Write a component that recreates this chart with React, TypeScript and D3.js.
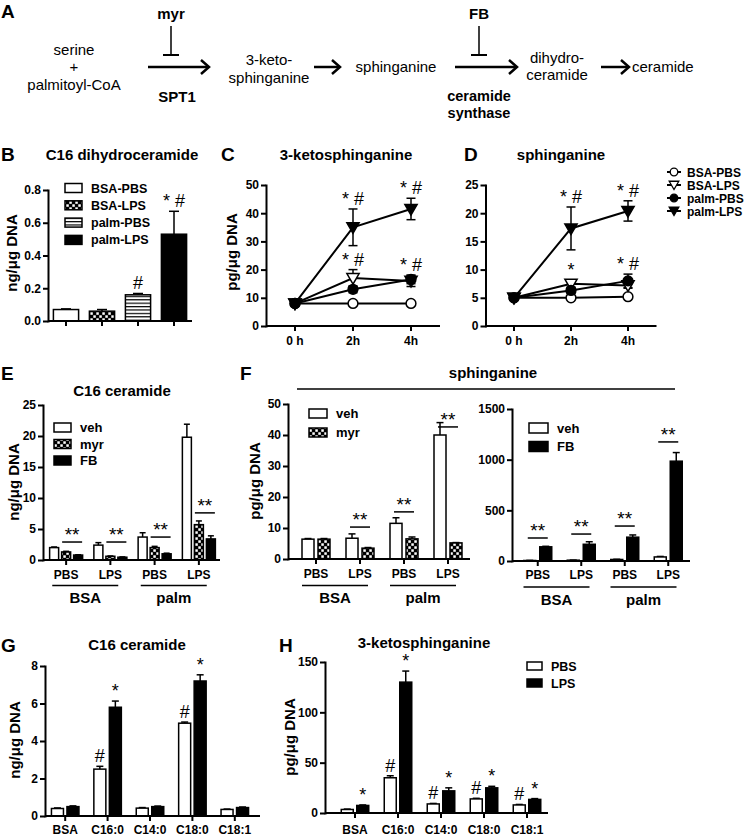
import React, { useEffect, useRef } from 'react';
import * as d3 from 'd3';

const FONT = 'Arial, "Liberation Sans", Helvetica, sans-serif';

// B: C16 dihydroceramide
const bLabels = ['BSA-PBS', 'BSA-LPS', 'palm-PBS', 'palm-LPS'];
const bValues = [0.07, 0.06, 0.16, 0.53];
const bErrors = [0.004, 0.01, 0.008, 0.14];
const bMarks = ['', '', '#', '* #'];
const bTicks = [0, 0.2, 0.4, 0.6, 0.8];

// C, D: time course
const hours = [0, 2, 4];
const hourLabels = ['0 h', '2h', '4h'];
const seriesNames = ['BSA-PBS', 'BSA-LPS', 'palm-PBS', 'palm-LPS'];
const cMeans = [[8, 8, 8], [8, 17, 16], [8, 13, 16.5], [8, 35, 41.5]];
const cErrs = [[0.3, 0.3, 0.3], [0.3, 3, 2], [0.3, 1.2, 1.5], [0.3, 6.5, 3.8]];
const cMarksHigh = ['', '* #', '* #'];
const cMarksLow = ['', '* #', '* #'];
const cTicks = [0, 10, 20, 30, 40, 50];
const dMeans = [[5, 5, 5.2], [5, 7.5, 7.2], [5, 6.3, 8], [5, 17.3, 20.4]];
const dErrs = [[0.2, 0.2, 0.2], [0.2, 0.6, 0.5], [0.2, 0.5, 1.2], [0.2, 3.8, 1.8]];
const dMarksHigh = ['', '* #', '* #'];
const dMarksLow = ['', '*', '* #'];
const dTicks = [0, 5, 10, 15, 20, 25];

// E, F: conditions
const conditions = ['PBS', 'LPS', 'PBS', 'LPS'];
const groups = ['BSA', 'palm'];
const eVeh = [2.0, 2.4, 3.7, 19.8];
const eVehErr = [0.1, 0.4, 0.7, 2.1];
const eMyr = [1.3, 0.6, 2.0, 5.7];
const eMyrErr = [0.1, 0.05, 0.2, 0.6];
const eFB = [0.8, 0.45, 1.0, 3.4];
const eFBErr = [0.05, 0.05, 0.1, 0.5];
const eSig = [2.9, 2.9, 3.7, 7.6];
const eTicks = [0, 5, 10, 15, 20, 25];

const fVeh = [6.4, 6.7, 11.5, 40];
const fVehErr = [0.2, 1.4, 1.8, 4];
const fMyr = [6.4, 3.5, 6.5, 5.2];
const fMyrErr = [0.2, 0.2, 0.6, 0.1];
const fSig = [0, 10.3, 15.2, 42.6];
const fTicks = [0, 10, 20, 30, 40, 50];

const frVeh = [5, 8, 15, 40];
const frVehErr = [1, 1, 2, 5];
const frFB = [140, 165, 235, 985];
const frFBErr = [5, 25, 22, 85];
const frSig = [227, 266, 345, 1175];
const frTicks = [0, 500, 1000, 1500];

// G, H: fatty acids
const acids = ['BSA', 'C16:0', 'C14:0', 'C18:0', 'C18:1'];
const gPBS = [0.4, 2.5, 0.42, 4.95, 0.35];
const gPBSErr = [0.03, 0.15, 0.03, 0.06, 0.02];
const gLPS = [0.5, 5.8, 0.5, 7.2, 0.45];
const gLPSErr = [0.04, 0.33, 0.03, 0.33, 0.03];
const gMarksPBS = ['', '#', '', '#', ''];
const gMarksLPS = ['', '*', '', '*', ''];
const gTicks = [0, 2, 4, 6, 8];

const hPBS = [3.5, 35, 9, 14, 8];
const hPBSErr = [0.4, 2, 0.5, 0.6, 0.5];
const hLPS = [7.5, 130, 22, 25, 13.5];
const hLPSErr = [0.5, 11, 3, 1.5, 0.8];
const hMarksPBS = ['', '#', '#', '#', '#'];
const hMarksLPS = ['*', '*', '*', '*', '*'];
const hTicks = [0, 50, 100, 150];

type Sel = d3.Selection<any, unknown, null, undefined>;

function text(g: Sel, x: number, y: number, s: string, size: number, weight = 'bold', anchor = 'middle') {
  return g.append('text')
    .attr('x', x).attr('y', y)
    .attr('font-family', FONT).attr('font-size', size)
    .attr('font-weight', weight).attr('text-anchor', anchor)
    .text(s);
}

function yLabel(g: Sel, cx: number, cy: number, s: string) {
  g.append('text')
    .attr('transform', `translate(${cx + 5},${cy}) rotate(-90)`)
    .attr('font-family', FONT).attr('font-size', 15).attr('font-weight', 'bold')
    .attr('text-anchor', 'middle')
    .text(s);
}

function line(g: Sel, x1: number, y1: number, x2: number, y2: number, w = 2) {
  g.append('line').attr('x1', x1).attr('y1', y1).attr('x2', x2).attr('y2', y2)
    .attr('stroke', '#000').attr('stroke-width', w);
}

function yAxis(g: Sel, y: d3.ScaleLinear<number, number>, x: number, ticks: number[], fmt = d3.format('d')) {
  const a = g.append('g').attr('transform', `translate(${x},0)`)
    .call(d3.axisLeft(y).tickValues(ticks).tickSize(5).tickSizeOuter(0).tickPadding(2).tickFormat(fmt as any));
  a.attr('font-family', FONT).attr('font-size', 12).attr('font-weight', 'bold');
  a.select('.domain').attr('stroke-width', 2).attr('stroke-linecap', 'square');
  a.selectAll('.tick line').attr('stroke-width', 2);
}

function xBase(g: Sel, x0: number, x1: number, y0: number, ticks: number[]) {
  line(g, x0, y0, x1, y0);
  ticks.forEach(t => line(g, t, y0, t, y0 + 5));
}

function bars(g: Sel, cx: (i: number) => number, y: d3.ScaleLinear<number, number>,
  values: number[], errs: number[], fill: string | ((i: number) => string), barW: number, capW: number) {
  values.forEach((v, i) => {
    const x = cx(i);
    const top = y(v + errs[i]);
    line(g, x, y(v), x, top, 1.5);
    line(g, x - capW / 2, top, x + capW / 2, top, 1.5);
    g.append('rect')
      .attr('x', x - barW / 2).attr('y', y(v))
      .attr('width', barW).attr('height', Math.max(0, y(0) - y(v)))
      .attr('fill', typeof fill === 'function' ? fill(i) : fill)
      .attr('stroke', '#000').attr('stroke-width', 1.5);
  });
}

function legendBoxes(g: Sel, x: number, y: number, step: number, w: number, h: number, names: string[], fills: string[], size = 12.5) {
  names.forEach((n, i) => {
    const cy = y + i * step;
    g.append('rect').attr('x', x).attr('y', cy - h / 2).attr('width', w).attr('height', h)
      .attr('fill', fills[i]).attr('stroke', '#000').attr('stroke-width', 1.5);
    text(g, x + w + 9, cy + 4.5, n, size, 'bold', 'start');
  });
}

function groupLabels(g: Sel, centers: number[], yLine: number, yText: number) {
  groups.forEach((name, k) => {
    const mid = (centers[2 * k] + centers[2 * k + 1]) / 2 - 3;
    line(g, mid - 33, yLine, mid + 33, yLine, 1.5);
    text(g, mid, yText, name, 15);
  });
}

function sigLine(g: Sel, x: number, yy: number) {
  line(g, x - 10, yy, x + 10, yy, 1.5);
  text(g, x, yy - 1, '**', 19, 'normal');
}

const shapes = [
  { sym: d3.symbolCircle, fill: '#fff', rot: 0 },
  { sym: d3.symbolTriangle, fill: '#fff', rot: 180 },
  { sym: d3.symbolCircle, fill: '#000', rot: 0 },
  { sym: d3.symbolTriangle, fill: '#000', rot: 180 },
];

function timePanel(g: Sel, o: {
  x0: number; x1: number; y0: number; y1: number; max: number; ticks: number[];
  means: number[][]; errs: number[][]; high: string[]; low: string[];
}) {
  const x = d3.scaleLinear().domain([-1, 5]).range([o.x0, o.x1]);
  const y = d3.scaleLinear().domain([0, o.max]).range([o.y0, o.y1]);
  yAxis(g, y, o.x0, o.ticks);
  xBase(g, o.x0, o.x1, o.y0, hours.map(h => x(h)));
  hours.forEach((h, i) => text(g, x(h), o.y0 + 19, hourLabels[i], 12));
  const path = d3.line<number>().x((_, i) => x(hours[i])).y(d => y(d));
  o.means.forEach(m => g.append('path').attr('d', path(m)!).attr('fill', 'none')
    .attr('stroke', '#000').attr('stroke-width', 2));
  o.means.forEach((m, s) => m.forEach((v, i) => {
    const e = o.errs[s][i];
    const cx = x(hours[i]);
    line(g, cx, y(v - e), cx, y(v + e), 1.5);
    line(g, cx - 4.5, y(v - e), cx + 4.5, y(v - e), 1.5);
    line(g, cx - 4.5, y(v + e), cx + 4.5, y(v + e), 1.5);
  }));
  o.means.forEach((m, s) => m.forEach((v, i) => {
    const sh = shapes[s];
    g.append('path')
      .attr('d', d3.symbol().type(sh.sym).size(sh.sym === d3.symbolCircle ? 75 : 65)()!)
      .attr('transform', `translate(${x(hours[i])},${y(v) + (sh.rot ? -1 : 0)}) rotate(${sh.rot})`)
      .attr('fill', sh.fill).attr('stroke', '#000').attr('stroke-width', 1.5);
  }));
  hours.forEach((h, i) => {
    if (o.high[i]) {
      const top = o.means[3][i] + o.errs[3][i];
      text(g, x(h), y(top) - 4, o.high[i], 18, 'normal');
    }
    if (o.low[i]) {
      const top = d3.max([1, 2], s => o.means[s][i] + o.errs[s][i])!;
      text(g, x(h), y(top) - 4, o.low[i], 18, 'normal');
    }
  });
}

function draw(svg: Sel) {
  const defs = svg.append('defs');
  const chk = defs.append('pattern').attr('id', 'chk').attr('patternUnits', 'userSpaceOnUse')
    .attr('width', 6).attr('height', 6);
  chk.append('rect').attr('width', 6).attr('height', 6).attr('fill', '#000');
  chk.append('rect').attr('x', 0.3).attr('y', 0.3).attr('width', 2.5).attr('height', 2.5).attr('fill', '#fff');
  chk.append('rect').attr('x', 3.3).attr('y', 3.3).attr('width', 2.5).attr('height', 2.5).attr('fill', '#fff');
  const str = defs.append('pattern').attr('id', 'stripe').attr('patternUnits', 'userSpaceOnUse')
    .attr('width', 4).attr('height', 3.4);
  str.append('rect').attr('width', 4).attr('height', 3.4).attr('fill', '#fff');
  str.append('rect').attr('width', 4).attr('height', 1.2).attr('fill', '#000');

  const g = svg.append('g');

  // ---- A: pathway ----
  text(g, 1, 18, 'A', 19, 'bold', 'start');
  const arrow = (x1: number, x2: number, yy: number) => {
    line(g, x1, yy, x2 - 1, yy, 2.5);
    g.append('path').attr('d', `M${x2 - 8},${yy - 7}L${x2},${yy}L${x2 - 8},${yy + 7}`)
      .attr('fill', 'none').attr('stroke', '#000').attr('stroke-width', 2.5);
  };
  const inhibit = (x: number) => {
    line(g, x, 26, x, 55, 1.5);
    line(g, x - 8, 55, x + 8, 55, 2);
  };
  text(g, 74, 55, 'serine', 15, 'normal');
  text(g, 74, 72, '+', 15, 'normal');
  text(g, 74, 90, 'palmitoyl-CoA', 15, 'normal');
  text(g, 171, 19, 'myr', 15);
  inhibit(171);
  arrow(148, 209, 67);
  text(g, 177, 102, 'SPT1', 15);
  text(g, 269, 65, '3-keto-', 15, 'normal');
  text(g, 269, 83, 'sphinganine', 15, 'normal');
  arrow(314, 340, 67);
  text(g, 396, 72, 'sphinganine', 15, 'normal');
  text(g, 479, 19, 'FB', 15);
  inhibit(479);
  arrow(455, 517, 67);
  text(g, 479, 101, 'ceramide', 14.5);
  text(g, 479, 118, 'synthase', 14.5);
  text(g, 557, 63, 'dihydro-', 15, 'normal');
  text(g, 557, 80, 'ceramide', 15, 'normal');
  arrow(601, 629, 67);
  text(g, 632, 72, 'ceramide', 15, 'normal', 'start');

  // ---- B ----
  text(g, 1, 161, 'B', 19, 'bold', 'start');
  text(g, 122, 160, 'C16 dihydroceramide', 15);
  {
    const y = d3.scaleLinear().domain([0, 0.8]).range([321, 190]);
    const x = d3.scaleBand<number>().domain(d3.range(4)).range([48, 192]).paddingInner(0.3).paddingOuter(0.15);
    const cx = (i: number) => x(i)! + x.bandwidth() / 2;
    const fills = ['#fff', 'url(#chk)', 'url(#stripe)', '#000'];
    yAxis(g, y, 48, bTicks, d3.format('.1f'));
    bars(g, cx, y, bValues, bErrors, i => fills[i], x.bandwidth(), 10);
    xBase(g, 48, 192, 321, d3.range(4).map(cx));
    bMarks.forEach((m, i) => m && text(g, cx(i), y(bValues[i] + bErrors[i]) - 4, m, 18, 'normal'));
    legendBoxes(g, 65, 188, 17.3, 17, 9, bLabels, fills);
    yLabel(g, 12, 253, 'ng/\u03bcg DNA');
  }

  // ---- C ----
  text(g, 221, 161, 'C', 19, 'bold', 'start');
  text(g, 346, 160, '3-ketosphinganine', 15);
  timePanel(g, { x0: 266, x1: 440, y0: 326, y1: 185, max: 50, ticks: cTicks, means: cMeans, errs: cErrs, high: cMarksHigh, low: cMarksLow });
  yLabel(g, 232, 252, 'pg/\u03bcg DNA');

  // ---- D ----
  text(g, 464, 161, 'D', 19, 'bold', 'start');
  text(g, 561, 160, 'sphinganine', 15);
  timePanel(g, { x0: 485.5, x1: 656.5, y0: 326, y1: 185, max: 25, ticks: dTicks, means: dMeans, errs: dErrs, high: dMarksHigh, low: dMarksLow });
  seriesNames.forEach((n, s) => {
    const cy = 172 + s * 13;
    const sh = shapes[s];
    line(g, 667, cy, 681, cy, 2);
    g.append('path')
      .attr('d', d3.symbol().type(sh.sym).size(sh.sym === d3.symbolCircle ? 45 : 40)()!)
      .attr('transform', `translate(674,${cy + (sh.rot ? -1 : 0)}) rotate(${sh.rot})`)
      .attr('fill', sh.fill).attr('stroke', '#000').attr('stroke-width', 1.3);
    text(g, 687, cy + 4.5, n, 12, 'bold', 'start');
  });

  // ---- E ----
  text(g, 1, 380, 'E', 19, 'bold', 'start');
  text(g, 122, 396, 'C16 ceramide', 15);
  {
    const y = d3.scaleLinear().domain([0, 25]).range([560, 405]);
    const x = d3.scaleBand<number>().domain(d3.range(4)).range([44, 221]);
    const c = (i: number) => x(i)! + x.bandwidth() / 2;
    yAxis(g, y, 43, eTicks);
    bars(g, i => c(i) - 12, y, eVeh, eVehErr, '#fff', 9, 6);
    bars(g, c, y, eMyr, eMyrErr, 'url(#chk)', 9, 6);
    bars(g, i => c(i) + 12, y, eFB, eFBErr, '#000', 9, 6);
    const centers = d3.range(4).map(c);
    xBase(g, 43, 220, 560, centers);
    conditions.forEach((s, i) => text(g, centers[i], 578.5, s, 12));
    groupLabels(g, centers, 585.5, 603);
    eSig.forEach((v, i) => sigLine(g, c(i) + 6, y(v)));
    legendBoxes(g, 54, 427.5, 16.5, 17, 9, ['veh', 'myr', 'FB'], ['#fff', 'url(#chk)', '#000'], 13);
    yLabel(g, 14, 482, 'ng/\u03bcg DNA');
  }

  // ---- F ----
  text(g, 240, 380, 'F', 19, 'bold', 'start');
  text(g, 493, 378, 'sphinganine', 15);
  line(g, 297, 389, 675, 389, 1.5);
  {
    const y = d3.scaleLinear().domain([0, 50]).range([559, 404]);
    const x = d3.scaleBand<number>().domain(d3.range(4)).range([294, 470]);
    const c = (i: number) => x(i)! + x.bandwidth() / 2;
    yAxis(g, y, 288, fTicks);
    bars(g, i => c(i) - 8, y, fVeh, fVehErr, '#fff', 12, 7);
    bars(g, i => c(i) + 8, y, fMyr, fMyrErr, 'url(#chk)', 12, 7);
    const centers = d3.range(4).map(c);
    xBase(g, 288, 470, 559, centers);
    conditions.forEach((s, i) => text(g, centers[i], 578, s, 12));
    groupLabels(g, centers, 585.5, 603);
    fSig.forEach((v, i) => v && sigLine(g, c(i), y(v)));
    legendBoxes(g, 309, 413.5, 19, 18, 9, ['veh', 'myr'], ['#fff', 'url(#chk)'], 13);
    yLabel(g, 255, 481, 'pg/\u03bcg DNA');
  }
  {
    const y = d3.scaleLinear().domain([0, 1500]).range([561, 409]);
    const x = d3.scaleBand<number>().domain(d3.range(4)).range([516, 690]);
    const c = (i: number) => x(i)! + x.bandwidth() / 2;
    yAxis(g, y, 512, frTicks);
    bars(g, i => c(i) - 8, y, frVeh, frVehErr, '#fff', 12, 7);
    bars(g, i => c(i) + 8, y, frFB, frFBErr, '#000', 12, 7);
    const centers = d3.range(4).map(c);
    xBase(g, 512, 690, 561, centers);
    conditions.forEach((s, i) => text(g, centers[i], 578.5, s, 12));
    groupLabels(g, centers, 587, 605);
    frSig.forEach((v, i) => sigLine(g, c(i), y(v)));
    legendBoxes(g, 529, 428, 18.5, 19, 10, ['veh', 'FB'], ['#fff', '#000'], 13);
  }

  // ---- G ----
  text(g, 1, 652, 'G', 19, 'bold', 'start');
  text(g, 137, 650, 'C16 ceramide', 15);
  {
    const y = d3.scaleLinear().domain([0, 8]).range([816, 666]);
    const x = d3.scaleBand<number>().domain(d3.range(5)).range([44, 256]);
    const c = (i: number) => x(i)! + x.bandwidth() / 2;
    yAxis(g, y, 45, gTicks);
    bars(g, i => c(i) - 7.75, y, gPBS, gPBSErr, '#fff', 12, 7);
    bars(g, i => c(i) + 7.75, y, gLPS, gLPSErr, '#000', 12, 7);
    const centers = d3.range(5).map(c);
    xBase(g, 45, 260, 816, centers);
    acids.forEach((s, i) => text(g, centers[i], 833.5, s, 12));
    gMarksPBS.forEach((m, i) => m && text(g, c(i) - 7.75, y(gPBS[i] + gPBSErr[i]) - 4, m, 18, 'normal'));
    gMarksLPS.forEach((m, i) => m && text(g, c(i) + 7.75, y(gLPS[i] + gLPSErr[i]) - 4, m, 18, 'normal'));
    yLabel(g, 15, 740, 'ng/\u03bcg DNA');
  }

  // ---- H ----
  text(g, 279, 652, 'H', 19, 'bold', 'start');
  text(g, 424, 648, '3-ketosphinganine', 15);
  {
    const y = d3.scaleLinear().domain([0, 150]).range([813, 662]);
    const x = d3.scaleBand<number>().domain(d3.range(5)).range([333.5, 548.5]);
    const c = (i: number) => x(i)! + x.bandwidth() / 2;
    yAxis(g, y, 325, hTicks);
    bars(g, i => c(i) - 7.75, y, hPBS, hPBSErr, '#fff', 12, 7);
    bars(g, i => c(i) + 7.75, y, hLPS, hLPSErr, '#000', 12, 7);
    const centers = d3.range(5).map(c);
    xBase(g, 325, 548, 813, centers);
    acids.forEach((s, i) => text(g, centers[i], 833.5, s, 12));
    hMarksPBS.forEach((m, i) => m && text(g, c(i) - 7.75, y(hPBS[i] + hPBSErr[i]) - 4, m, 18, 'normal'));
    hMarksLPS.forEach((m, i) => m && text(g, c(i) + 7.75, y(hLPS[i] + hLPSErr[i]) - 4, m, 18, 'normal'));
    legendBoxes(g, 527, 666, 17, 15, 8, ['PBS', 'LPS'], ['#fff', '#000'], 12.5);
    yLabel(g, 290, 737, 'pg/\u03bcg DNA');
  }
}

export default function App() {
  const ref = useRef<SVGSVGElement>(null);
  useEffect(() => {
    const svg = d3.select(ref.current) as unknown as Sel;
    svg.selectAll('*').remove();
    draw(svg);
  }, []);
  return (
    <svg ref={ref} width={745} height={836}
      style={{ position: 'absolute', left: 0, top: 0, background: '#fff', display: 'block' }} />
  );
}
